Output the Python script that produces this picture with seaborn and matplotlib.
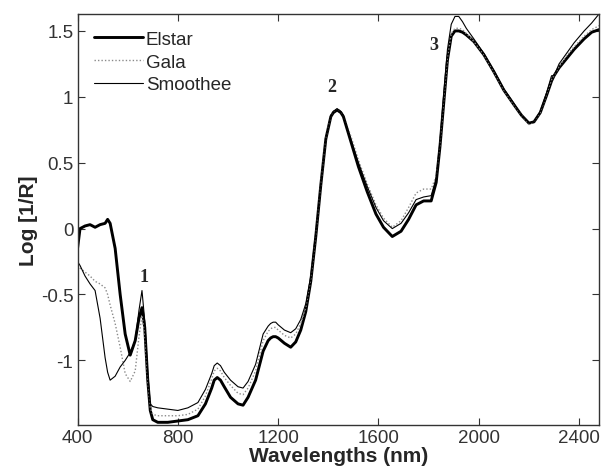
import numpy as np
import pandas as pd
import matplotlib
matplotlib.use("Agg")
import matplotlib.pyplot as plt
import seaborn as sns

# wavelengths (nm)
WAVELENGTHS = [400, 410, 430, 450, 470, 490, 510, 520, 530, 550, 570, 590, 610, 630,
               645, 657, 668, 680, 690, 700, 720, 760, 800, 840, 880, 910, 935, 945,
               957, 970, 985, 1010, 1040, 1060, 1080, 1110, 1140, 1160, 1170, 1180, 1190,
               1200, 1225, 1250, 1270, 1290, 1310, 1330, 1350, 1370, 1390, 1410, 1420,
               1435, 1450, 1460, 1490, 1520, 1555, 1590, 1620, 1655, 1690, 1720, 1750,
               1780, 1810, 1830, 1845, 1860, 1875, 1890, 1905, 1920, 1935, 1950, 1980,
               2020, 2060, 2100, 2140, 2170, 2200, 2220, 2245, 2270, 2290, 2300, 2320,
               2350, 2380, 2420, 2450, 2480]

ELSTAR = [-0.15, 0.00, 0.02, 0.03, 0.01, 0.03, 0.04, 0.07, 0.04, -0.15, -0.50, -0.80,
          -0.96, -0.85, -0.68, -0.60, -0.75, -1.15, -1.38, -1.45, -1.47, -1.47, -1.46,
          -1.45, -1.42, -1.33, -1.21, -1.15, -1.13, -1.15, -1.20, -1.28, -1.33, -1.34,
          -1.28, -1.15, -0.93, -0.85, -0.83, -0.82, -0.82, -0.83, -0.87, -0.90, -0.86,
          -0.77, -0.63, -0.40, -0.06, 0.33, 0.68, 0.85, 0.88, 0.90, 0.88, 0.85, 0.66,
          0.47, 0.28, 0.11, 0.01, -0.06, -0.02, 0.07, 0.18, 0.21, 0.21, 0.35, 0.62,
          0.95, 1.28, 1.46, 1.50, 1.50, 1.49, 1.47, 1.42, 1.32, 1.19, 1.05, 0.94, 0.86,
          0.80, 0.81, 0.88, 1.01, 1.12, 1.16, 1.22, 1.29, 1.36, 1.44, 1.49, 1.51]

GALA = [-0.28, -0.30, -0.33, -0.36, -0.40, -0.42, -0.45, -0.50, -0.58, -0.72, -0.90,
        -1.10, -1.16, -1.08, -0.82, -0.66, -0.80, -1.15, -1.36, -1.41, -1.42, -1.42,
        -1.42, -1.41, -1.37, -1.27, -1.14, -1.08, -1.06, -1.08, -1.13, -1.19, -1.25,
        -1.26, -1.21, -1.08, -0.85, -0.78, -0.76, -0.75, -0.75, -0.77, -0.81, -0.83,
        -0.80, -0.72, -0.60, -0.38, -0.04, 0.34, 0.69, 0.86, 0.89, 0.91, 0.89, 0.86,
        0.70, 0.52, 0.34, 0.18, 0.08, 0.01, 0.06, 0.16, 0.27, 0.30, 0.30, 0.40, 0.64,
        0.98, 1.30, 1.48, 1.52, 1.52, 1.51, 1.48, 1.42, 1.32, 1.19, 1.05, 0.94, 0.86,
        0.79, 0.81, 0.88, 1.02, 1.13, 1.16, 1.23, 1.31, 1.38, 1.46, 1.51, 1.54]

SMOOTHEE = [-0.25, -0.28, -0.36, -0.42, -0.47, -0.68, -0.98, -1.09, -1.15, -1.12,
            -1.05, -1.00, -0.94, -0.85, -0.62, -0.47, -0.70, -1.10, -1.33, -1.35, -1.36,
            -1.37, -1.38, -1.36, -1.32, -1.22, -1.10, -1.04, -1.02, -1.04, -1.09, -1.15,
            -1.20, -1.21, -1.16, -1.03, -0.80, -0.74, -0.72, -0.71, -0.71, -0.73, -0.77,
            -0.79, -0.76, -0.69, -0.57, -0.36, -0.03, 0.34, 0.69, 0.86, 0.89, 0.91, 0.89,
            0.86, 0.68, 0.50, 0.32, 0.16, 0.06, 0.00, 0.04, 0.12, 0.22, 0.24, 0.25, 0.38,
            0.66, 1.02, 1.36, 1.55, 1.61, 1.61, 1.57, 1.52, 1.44, 1.33, 1.20, 1.06, 0.95,
            0.86, 0.80, 0.81, 0.89, 1.03, 1.16, 1.16, 1.25, 1.33, 1.41, 1.50, 1.56, 1.63]

# peak labels: (text, wavelength, value)
PEAK_LABELS = [("1", 665, -0.36), ("2", 1415, 1.08), ("3", 1819, 1.40)]

sns.set_style("ticks")
plt.rcParams["font.family"] = ["Liberation Sans", "DejaVu Sans"]
plt.rcParams["xtick.direction"] = "in"
plt.rcParams["ytick.direction"] = "in"

fig = plt.figure(figsize=(6.01, 4.77), dpi=100)
ax = fig.add_axes([0.129, 0.107, 0.868, 0.862])

df = pd.DataFrame({"wl": WAVELENGTHS, "Elstar": ELSTAR,
                   "Gala": GALA, "Smoothee": SMOOTHEE})

sns.lineplot(data=df, x="wl", y="Elstar", ax=ax, color="black", lw=2.1, label="Elstar")
sns.lineplot(data=df, x="wl", y="Gala", ax=ax, color="#8a8a8a", lw=1.0,
             linestyle=(0, (1, 1.5)), label="Gala")
sns.lineplot(data=df, x="wl", y="Smoothee", ax=ax, color="black", lw=0.8, label="Smoothee")

for txt, xw, yv in PEAK_LABELS:
    ax.text(xw, yv, txt, family=["Liberation Serif", "DejaVu Serif"], fontweight="bold",
            fontsize=13, ha="center", va="center")

ax.set_xlim(400, 2480)
ax.set_ylim(-1.49, 1.63)
ax.set_xticks([400, 800, 1200, 1600, 2000, 2400])
ax.set_yticks([-1, -0.5, 0, 0.5, 1, 1.5])
ax.set_yticklabels(["-1", "-0.5", "0", "0.5", "1", "1.5"])
ax.tick_params(top=True, right=True, labelsize=13.5, length=5, width=0.8, pad=3,
               colors="#333333", labelcolor="#333333")
for sp in ax.spines.values():
    sp.set_linewidth(1.0)
    sp.set_color("#333333")

ax.set_xlabel("Wavelengths (nm)", fontsize=15, fontweight="bold", labelpad=0)
ax.set_ylabel("Log [1/R]", fontsize=15, fontweight="bold", labelpad=2)

ax.legend(loc="upper left", frameon=False, fontsize=13.5, handlelength=2.6,
          handletextpad=0.15, labelspacing=0.3, borderaxespad=0.5)

fig.savefig("out.png", dpi=100)
